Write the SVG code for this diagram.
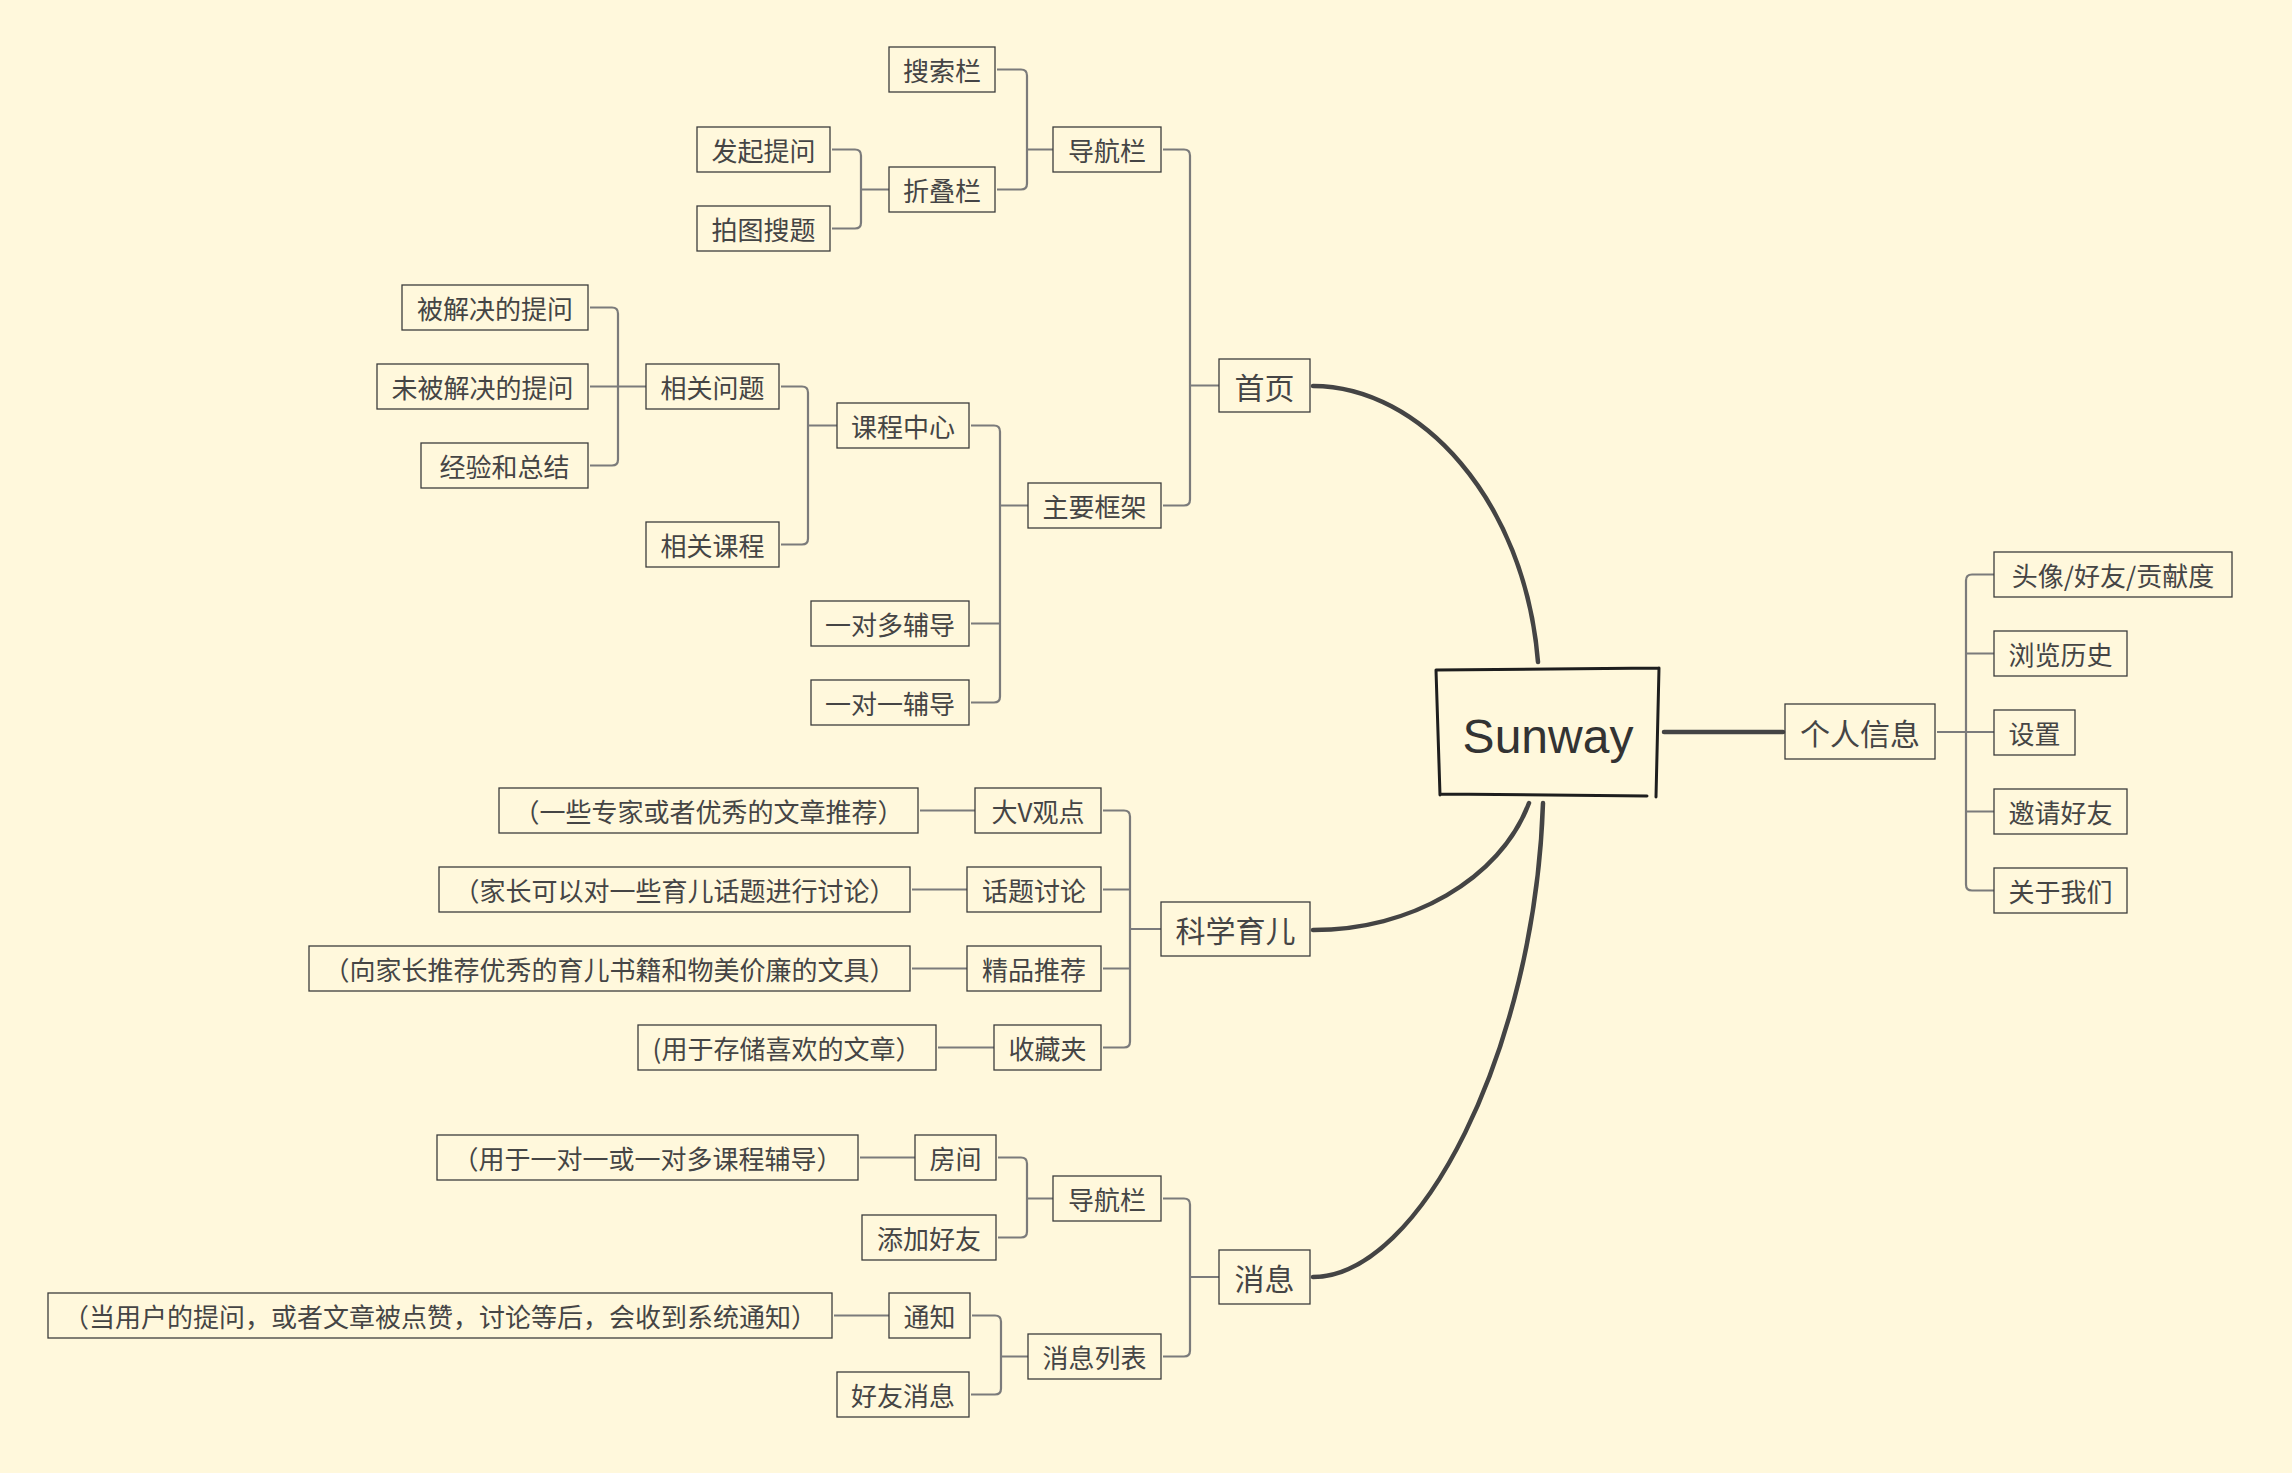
<svg xmlns="http://www.w3.org/2000/svg" width="2292" height="1473" viewBox="0 0 2292 1473">
<style>
.bg{fill:#fff8dc}
.n rect{fill:none;stroke:#3c3c3c;stroke-width:1.3}
.n text{font-family:"Noto Sans CJK SC","Liberation Sans",sans-serif;font-size:26px;fill:#454545;text-anchor:middle;dominant-baseline:central}
.n.l1 text{font-size:30px}
.c{fill:none;stroke:#7b7b7b;stroke-width:2.2}
.t{fill:none;stroke:#444;stroke-width:4.5;stroke-linecap:round}
.root{fill:none;stroke:#1e1e1e;stroke-width:3;stroke-linecap:round}
.rt{font-family:"Liberation Sans","DejaVu Sans",sans-serif;font-size:48px;fill:#333;text-anchor:middle}
</style>
<rect class="bg" x="0" y="0" width="2292" height="1473"/>
<g id="connectors">
  <path class="t" d="M1313,386 C1420,386 1525,500 1538,662"/>
  <path class="t" d="M1313,930 C1410,930 1500,880 1529,803"/>
  <path class="t" d="M1313,1277 C1420,1277 1535,1050 1543,803"/>
  <path class="t" d="M1664,732 H1783"/>
  <!-- nav1 -->
  <path class="c" d="M997,69.5 H1021 Q1027,69.5 1027,75.5 V183.5 Q1027,189.5 1021,189.5 H997 M1027,149.5 H1053"/>
  <!-- zhedie -->
  <path class="c" d="M832,149.5 H855 Q861,149.5 861,155.5 V222.5 Q861,228.5 855,228.5 H832 M861,189.5 H889"/>
  <!-- home -->
  <path class="c" d="M1163,149.5 H1184 Q1190,149.5 1190,155.5 V499.5 Q1190,505.5 1184,505.5 H1163 M1190,385.5 H1219"/>
  <!-- main -->
  <path class="c" d="M971,425.5 H994 Q1000,425.5 1000,431.5 V696.5 Q1000,702.5 994,702.5 H971 M971,623.5 H1000 M1000,505.5 H1028"/>
  <!-- course -->
  <path class="c" d="M781,386.5 H802 Q808,386.5 808,392.5 V538.5 Q808,544.5 802,544.5 H781 M808,425.5 H837"/>
  <!-- relq -->
  <path class="c" d="M590,307.5 H612 Q618,307.5 618,313.5 V459.5 Q618,465.5 612,465.5 H590 M590,386.5 H646"/>
  <!-- sci -->
  <path class="c" d="M1103,810.5 H1124 Q1130,810.5 1130,816.5 V1041.5 Q1130,1047.5 1124,1047.5 H1103 M1103,889.5 H1130 M1103,968.5 H1130 M1130,929 H1161"/>
  <!-- msg -->
  <path class="c" d="M1163,1198.5 H1184 Q1190,1198.5 1190,1204.5 V1350.5 Q1190,1356.5 1184,1356.5 H1163 M1190,1277 H1219"/>
  <!-- nav2 -->
  <path class="c" d="M998,1157.5 H1021 Q1027,1157.5 1027,1163.5 V1231.5 Q1027,1237.5 1021,1237.5 H998 M1027,1198.5 H1053"/>
  <!-- msglist -->
  <path class="c" d="M972,1315.5 H995 Q1001,1315.5 1001,1321.5 V1388.5 Q1001,1394.5 995,1394.5 H971 M1001,1356.5 H1028"/>
  <!-- profile -->
  <path class="c" d="M1994,574.5 H1972 Q1966,574.5 1966,580.5 V884.5 Q1966,890.5 1972,890.5 H1994 M1966,653.5 H1994 M1966,811.5 H1994 M1937,732 H1994"/>
  <!-- description links -->
  <path class="c" d="M920,810.5 H975 M912,889.5 H967 M912,968.5 H967 M938,1047.5 H994 M860,1157.5 H915 M834,1315.5 H889"/>
</g>
<g id="root">
  <path class="root" d="M1436,670 L1659,668 M1659,668 L1656,797 M1440,794 L1647,796 M1436,670 L1440,795"/>
  <text class="rt" x="1548" y="753">Sunway</text>
</g>
<g id="n_search" class="n"><rect x="889" y="47" width="106" height="45"/><text x="942" y="69.5">搜索栏</text></g>
<g id="n_faqi" class="n"><rect x="697" y="127" width="133" height="45"/><text x="763.5" y="149.5">发起提问</text></g>
<g id="n_zhedie" class="n"><rect x="889" y="167" width="106" height="45"/><text x="942" y="189.5">折叠栏</text></g>
<g id="n_paitu" class="n"><rect x="697" y="206" width="133" height="45"/><text x="763.5" y="228.5">拍图搜题</text></g>
<g id="n_nav1" class="n"><rect x="1053" y="127" width="108" height="45"/><text x="1107" y="149.5">导航栏</text></g>
<g id="n_home" class="n l1"><rect x="1219" y="359" width="91" height="53"/><text x="1264.5" y="385.5">首页</text></g>
<g id="n_solved" class="n"><rect x="402" y="285" width="186" height="45"/><text x="495" y="307.5">被解决的提问</text></g>
<g id="n_unsolved" class="n"><rect x="377" y="364" width="211" height="45"/><text x="482.5" y="386.5">未被解决的提问</text></g>
<g id="n_exp" class="n"><rect x="421" y="443" width="167" height="45"/><text x="504.5" y="465.5">经验和总结</text></g>
<g id="n_relq" class="n"><rect x="646" y="364" width="133" height="45"/><text x="712.5" y="386.5">相关问题</text></g>
<g id="n_relc" class="n"><rect x="646" y="522" width="133" height="45"/><text x="712.5" y="544.5">相关课程</text></g>
<g id="n_course" class="n"><rect x="837" y="403" width="132" height="45"/><text x="903" y="425.5">课程中心</text></g>
<g id="n_main" class="n"><rect x="1028" y="483" width="133" height="45"/><text x="1094.5" y="505.5">主要框架</text></g>
<g id="n_1tomany" class="n"><rect x="811" y="601" width="158" height="45"/><text x="890" y="623.5">一对多辅导</text></g>
<g id="n_1to1" class="n"><rect x="811" y="680" width="158" height="45"/><text x="890" y="702.5">一对一辅导</text></g>
<g id="n_sci" class="n l1"><rect x="1161" y="902" width="149" height="54"/><text x="1235.5" y="929">科学育儿</text></g>
<g id="n_bigv_d" class="n"><rect x="499" y="788" width="419" height="45"/><text x="708.5" y="810.5">（一些专家或者优秀的文章推荐）</text></g>
<g id="n_bigv" class="n"><rect x="975" y="788" width="126" height="45"/><text x="1038" y="810.5">大V观点</text></g>
<g id="n_topic_d" class="n"><rect x="439" y="867" width="471" height="45"/><text x="674.5" y="889.5">（家长可以对一些育儿话题进行讨论）</text></g>
<g id="n_topic" class="n"><rect x="967" y="867" width="134" height="45"/><text x="1034" y="889.5">话题讨论</text></g>
<g id="n_pick_d" class="n"><rect x="309" y="946" width="601" height="45"/><text x="609.5" y="968.5">（向家长推荐优秀的育儿书籍和物美价廉的文具）</text></g>
<g id="n_pick" class="n"><rect x="967" y="946" width="134" height="45"/><text x="1034" y="968.5">精品推荐</text></g>
<g id="n_fav_d" class="n"><rect x="638" y="1025" width="298" height="45"/><text x="787" y="1047.5">(用于存储喜欢的文章）</text></g>
<g id="n_fav" class="n"><rect x="994" y="1025" width="107" height="45"/><text x="1047.5" y="1047.5">收藏夹</text></g>
<g id="n_msg" class="n l1"><rect x="1219" y="1250" width="91" height="54"/><text x="1264.5" y="1277">消息</text></g>
<g id="n_nav2" class="n"><rect x="1053" y="1176" width="108" height="45"/><text x="1107" y="1198.5">导航栏</text></g>
<g id="n_room_d" class="n"><rect x="437" y="1135" width="421" height="45"/><text x="647.5" y="1157.5">（用于一对一或一对多课程辅导）</text></g>
<g id="n_room" class="n"><rect x="915" y="1135" width="81" height="45"/><text x="955.5" y="1157.5">房间</text></g>
<g id="n_addf" class="n"><rect x="862" y="1215" width="134" height="45"/><text x="929" y="1237.5">添加好友</text></g>
<g id="n_msglist" class="n"><rect x="1028" y="1334" width="133" height="45"/><text x="1094.5" y="1356.5">消息列表</text></g>
<g id="n_notify_d" class="n"><rect x="48" y="1293" width="784" height="45"/><text x="440" y="1315.5">（当用户的提问，或者文章被点赞，讨论等后，会收到系统通知）</text></g>
<g id="n_notify" class="n"><rect x="889" y="1293" width="81" height="45"/><text x="929.5" y="1315.5">通知</text></g>
<g id="n_friendmsg" class="n"><rect x="837" y="1372" width="132" height="45"/><text x="903" y="1394.5">好友消息</text></g>
<g id="n_profile" class="n l1"><rect x="1785" y="704" width="150" height="55"/><text x="1860" y="731.5">个人信息</text></g>
<g id="n_avatar" class="n"><rect x="1994" y="552" width="238" height="45"/><text x="2113" y="574.5">头像/好友/贡献度</text></g>
<g id="n_history" class="n"><rect x="1994" y="631" width="133" height="45"/><text x="2060.5" y="653.5">浏览历史</text></g>
<g id="n_settings" class="n"><rect x="1994" y="710" width="81" height="45"/><text x="2034.5" y="732.5">设置</text></g>
<g id="n_invite" class="n"><rect x="1994" y="789" width="133" height="45"/><text x="2060.5" y="811.5">邀请好友</text></g>
<g id="n_about" class="n"><rect x="1994" y="868" width="133" height="45"/><text x="2060.5" y="890.5">关于我们</text></g>
</svg>
